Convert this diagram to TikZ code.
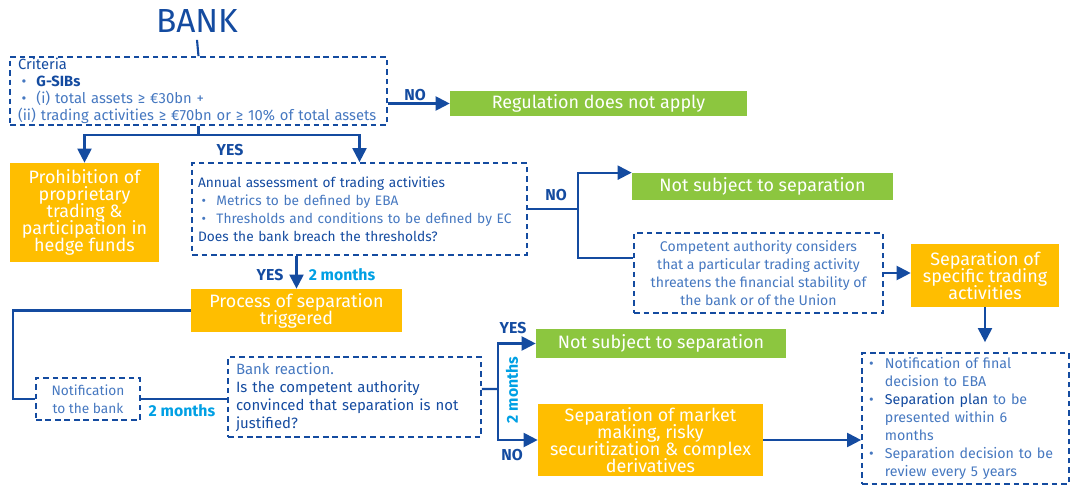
\documentclass[tikz,border=0pt]{standalone}
\usepackage{fontspec}
\setmainfont{Fira Sans}
\newcommand{\lightf}{\relax}
\newcommand{\medf}{\relax}
\usetikzlibrary{arrows.meta,positioning,calc}
\definecolor{ecblue}{RGB}{20,75,160}
\definecolor{eclight}{RGB}{70,120,192}
\definecolor{eccyan}{RGB}{0,160,228}
\definecolor{ecgreen}{RGB}{140,198,63}
\definecolor{ecorange}{RGB}{255,190,0}
\newcommand{\bigtxt}{\fontsize{10.2}{9.7}\selectfont\lineskiplimit=-10pt}
\newcommand{\smalltxt}{\lightf\fontsize{7.8}{10.2}\selectfont}
\newcommand{\itm}{\makebox[10.5pt][l]{\hspace{2pt}•}}
\newcommand{\fitm}{\makebox[9pt][l]{•}}
\newcommand{\hd}[1]{{\medf\color{ecblue}#1}}
\tikzset{
  dashbox/.style={draw=ecblue, line width=1pt, dash pattern=on 3.2pt off 2.2pt, inner sep=0pt, text=eclight},
  greenbox/.style={fill=ecgreen, text=white, font=\bigtxt, inner sep=0pt},
  orangebox/.style={fill=ecorange, text=white, font=\bigtxt, align=center, inner sep=0pt},
  link/.style={draw=ecblue, line width=1.2pt},
  arr/.style={link, -{Triangle[length=8pt,width=8pt]}},
  lbl/.style={text=ecblue, font=\bfseries\fontsize{9}{10}\selectfont},
  months/.style={text=eccyan, font=\bfseries\fontsize{9}{10}\selectfont},
}

\begin{document}
\begin{tikzpicture}[x=0.02cm, y=-0.02cm]
  %%%%% START %%%%%
  \useasboundingbox (0,0) rectangle (1074,486);

  \node[text=ecblue, font=\fontsize{19}{19}\selectfont, inner sep=4pt] (bank) at (197,21) {BANK};

  \node[dashbox, minimum width=7.54cm, minimum height=1.36cm, text width=7.22cm, inner xsep=0.16cm, align=left, font=\lightf\fontsize{8.4}{9.6}\selectfont] (crit) at (198.5,91) {%
    \hd{Criteria}\\
    \itm{\color{ecblue}\bfseries G-SIBs}\\
    \itm(i) total assets ≥ €30bn +\\
    (ii) trading activities ≥ €70bn or ≥ 10\% of total assets};

  \node[greenbox, minimum width=5.94cm, minimum height=0.5cm] (reg) at (598.5,103.5) {Regulation does not apply};

  \node[orangebox, minimum width=2.98cm, minimum height=1.98cm] (prohib) at (84.5,212.5) {Prohibition of\\proprietary\\trading \&\\participation in\\hedge funds};

  \node[dashbox, minimum width=6.7cm, minimum height=1.84cm, text width=6.46cm, inner xsep=0.12cm, align=left, font=\smalltxt] (annual) at (359.5,209) {%
    \hd{Annual assessment of trading activities}\\
    \itm Metrics to be defined by EBA\\
    \itm Thresholds and conditions to be defined by EC\\
    \hd{Does the bank breach the thresholds?}};

  \node[greenbox, minimum width=5.22cm, minimum height=0.54cm] (notsub1) at (762.5,186.5) {Not subject to separation};

  \node[dashbox, minimum width=4.98cm, minimum height=1.6cm, align=center, font=\lightf\fontsize{8}{10.2}\selectfont] (compet) at (758.5,273) {Competent authority considers\\that a particular trading activity\\threatens the financial stability of\\the bank or of the Union};

  \node[orangebox, minimum width=2.96cm, minimum height=1.26cm] (specific) at (985,275.5) {Separation of\\specific trading\\activities};

  \node[dashbox, minimum width=4.14cm, minimum height=2.62cm, text width=3.86cm, inner xsep=0.14cm, align=left, font=\lightf\fontsize{8.1}{10.2}\selectfont] (final) at (965.5,418.5) {%
    \fitm Notification of final\\
    \hspace*{9pt}decision to EBA\\
    \fitm\hd{Separation plan} to be\\
    \hspace*{9pt}presented within 6\\
    \hspace*{9pt}months\\
    \fitm Separation decision to be\\
    \hspace*{9pt}review every 5 years};

  \node[orangebox, minimum width=4.22cm, minimum height=0.86cm] (process) at (296.5,310.5) {Process of separation\\triggered};

  \node[dashbox, minimum width=2.08cm, minimum height=0.84cm, align=center, font=\smalltxt] (notif) at (88,399) {Notification\\to the bank};

  \node[dashbox, minimum width=5.06cm, minimum height=1.6cm, text width=4.74cm, inner xsep=0.16cm, align=left, font=\lightf\fontsize{8.5}{10.2}\selectfont] (react) at (354.5,397) {%
    Bank reaction.\\
    \hd{Is the competent authority}\\
    \hd{convinced that separation is not}\\
    \hd{justified?}};

  \node[greenbox, minimum width=5cm, minimum height=0.58cm] (notsub2) at (661,343.5) {Not subject to separation};

  \node[orangebox, minimum width=4.5cm, minimum height=1.44cm] (sepmm) at (650.5,440) {Separation of market\\making, risky\\securitization \& complex\\derivatives};

  % connectors
  \draw[link] (bank.south) -- (crit.north);
  \draw[arr] (crit.east |- reg.west) -- (reg.west);
  \node[lbl] (no1) at (415,95) {NO};

  \coordinate (split) at (198.5,135);
  \draw[link] (crit.south) -- (split);
  \draw[arr] (split) -| (prohib.north);
  \draw[arr] (split) -| (annual.north);
  \node[lbl] (yes1) at (230,150) {YES};

  \coordinate (nosplit) at (578,209);
  \draw[link] (annual.east) -- (nosplit);
  \draw[arr] (nosplit) |- (notsub1.north west);
  \draw[link] (nosplit) |- ([yshift=0.3cm]compet.west);
  \node[lbl] (no2) at (556,195) {NO};
  \draw[arr] (compet.east) -- (compet.east -| specific.west);
  \draw[arr, shorten >=0.2cm] (specific.south) -- (specific.south |- final.north);

  \draw[arr] (process.north |- annual.south) -- (process.north);
  \node[lbl] (yes2) at (270,275) {YES};
  \node[months] (m1) at (342,275) {2 months};

  \draw[link] (process.west) -| ([xshift=-0.44cm]notif.west) |- (notif.west);
  \draw[link] (notif.east) -- (notif.east -| react.west);
  \node[months] (m2) at (182,411) {2 months};

  \coordinate (ysplit) at (498,389);
  \draw[link] ([yshift=0.16cm]react.east) -- (ysplit);
  \draw[arr] (ysplit) |- (notsub2.west);
  \draw[arr] (ysplit) |- (sepmm.west);
  \node[lbl] (yes3) at (513,328) {YES};
  \node[lbl] (no3) at (512,455) {NO};
  \node[months, rotate=90] (m3) at (512,390) {2 months};
  \draw[arr] (sepmm.east) -- (sepmm.east -| final.west);
  %%%%% END %%%%%
\end{tikzpicture}
\end{document}
